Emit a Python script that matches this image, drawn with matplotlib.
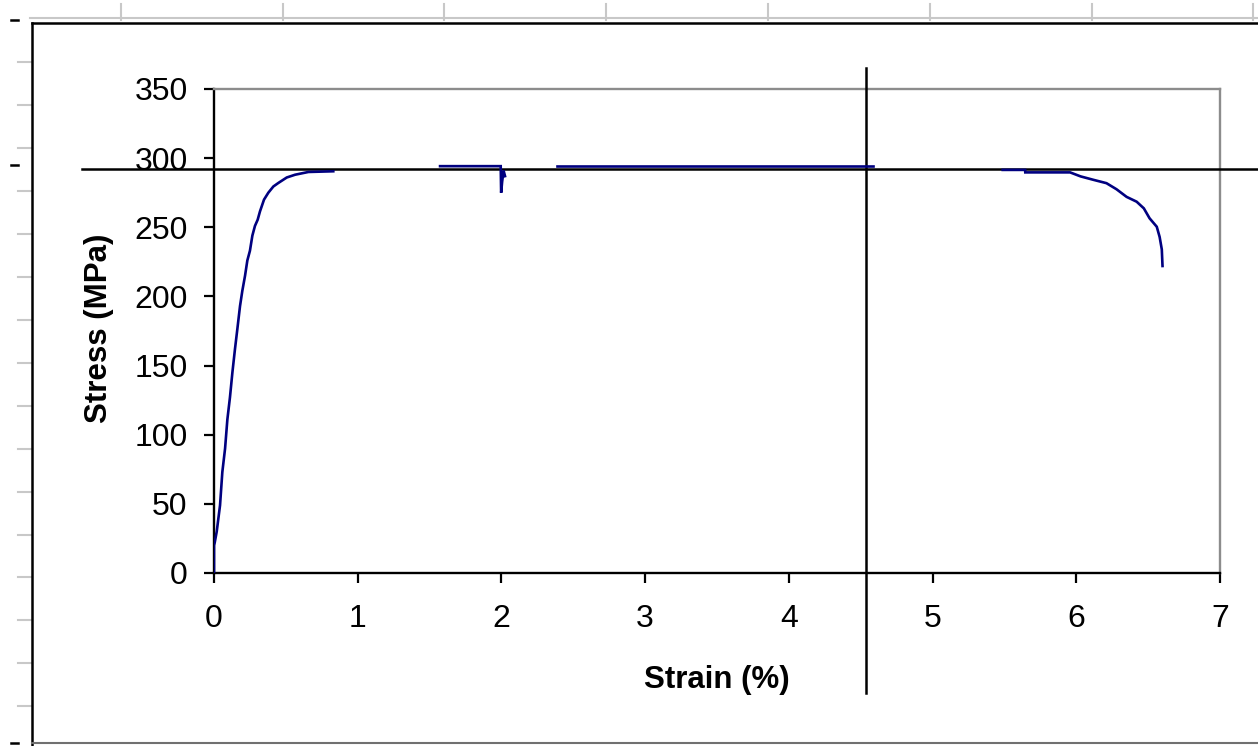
import matplotlib
matplotlib.use("Agg")
import matplotlib.pyplot as plt
import numpy as np

plt.rcParams['font.family'] = ['Liberation Sans', 'DejaVu Sans']

# ---- data ----
strain_elastic = [0.0, 0.0, 0.005, 0.019, 0.042, 0.058, 0.077, 0.093, 0.111, 0.128, 0.146,
                  0.162, 0.181, 0.197, 0.216, 0.232, 0.25, 0.267, 0.285, 0.304, 0.32,
                  0.348, 0.378, 0.413, 0.447, 0.506, 0.564, 0.657, 0.83]
stress_elastic = [0, 20, 22, 30, 49, 73, 90, 111, 127, 145, 162,
                  176, 193, 204, 215, 226, 233, 244, 251, 255.5, 261.5,
                  270, 275, 279.5, 282, 286, 288, 290, 290.5]

strain_mid1 = [1.573, 1.995, 1.998, 2.005, 2.015, 2.025]
stress_mid1 = [294.2, 294.2, 275, 283, 291, 287]

strain_mid2 = [2.385, 3.0, 4.0, 4.585]
stress_mid2 = [294.2, 294.2, 294.2, 294.2]

strain_end = [5.488, 5.644, 5.645, 5.957, 6.03, 6.12, 6.21, 6.28, 6.35, 6.42,
              6.47, 6.51, 6.56, 6.58, 6.595, 6.60]
stress_end = [291.5, 291.5, 289.7, 289.7, 286.8, 284.3, 281.9, 277.5, 272, 268.5,
              263.7, 256.5, 250.4, 243, 234, 222]

x_ticks = [0, 1, 2, 3, 4, 5, 6, 7]
y_ticks = [0, 50, 100, 150, 200, 250, 300, 350]

ref_stress = 292.5   # horizontal reference line
ref_strain = 4.54    # vertical reference line

W, H = 1258, 746
fig = plt.figure(figsize=(W / 100, H / 100), dpi=100)
fig.patch.set_facecolor('white')

# ---- spreadsheet background decorations (pixel coords) ----
bg = fig.add_axes([0, 0, 1, 1], zorder=0)
bg.set_xlim(0, W)
bg.set_ylim(H, 0)
bg.axis('off')
grid_col = '#c8c8c8'
bg.plot([30, W], [18, 18], color=grid_col, lw=1.5)
for gx in [121, 283, 444, 606, 768, 930, 1092, 1253]:
    bg.plot([gx, gx], [4, 20], color=grid_col, lw=1.5)
for gy in [62, 105, 148, 191, 234, 277, 320, 363, 406, 449, 492, 535, 577, 620, 663, 706]:
    bg.plot([18, 32], [gy, gy], color=grid_col, lw=1.5)
for gy in [20, 165, 743]:
    bg.plot([11, 18], [gy, gy], color='black', lw=1.8)
# chart area border
bg.plot([32, 32], [23, H], color='black', lw=1.8)
bg.plot([32, W], [23, 23], color='black', lw=1.8)
bg.plot([32, W], [743, 743], color='#707070', lw=1.5)

# ---- main plot ----
ax = fig.add_axes([214 / W, 1 - 573 / H, 1006 / W, 484 / H], zorder=2)
ax.set_facecolor('white')
line_col = '#000080'
for xs, ys in [(strain_elastic, stress_elastic), (strain_mid1, stress_mid1),
               (strain_mid2, stress_mid2), (strain_end, stress_end)]:
    ax.plot(xs, ys, color=line_col, lw=1.9, zorder=4, solid_joinstyle='miter')

ax.set_xlim(0, 7)
ax.set_ylim(0, 350)
ax.set_xticks(x_ticks)
ax.set_yticks(y_ticks)
ax.set_xticklabels([str(v) for v in x_ticks])
ax.set_yticklabels([str(v) for v in y_ticks])

for side in ['left', 'bottom']:
    ax.spines[side].set_color('black')
    ax.spines[side].set_linewidth(1.7)
for side in ['top', 'right']:
    ax.spines[side].set_color('#8c8c8c')
    ax.spines[side].set_linewidth(1.7)

ax.tick_params(axis='both', direction='out', length=7, width=1.6, colors='black',
               labelsize=23)
ax.tick_params(axis='x', pad=15)
ax.tick_params(axis='y', pad=12)

ax.set_xlabel('Strain (%)', fontsize=22.5, fontweight='bold')
ax.set_ylabel('Stress (MPa)', fontsize=22.5, fontweight='bold')
ax.xaxis.label.set_va('center')
ax.yaxis.label.set_va('center')
ax.xaxis.set_label_coords(0.5, -(680 - 573) / 484)
ax.yaxis.set_label_coords(-(214 - 99) / 1006, (573 - 328) / 484)

# reference cross lines (extend beyond plot area)
x_left = (82 - 214) / 1006 * 7
x_right = (W - 214) / 1006 * 7
ax.plot([x_left, x_right], [ref_stress, ref_stress], color='black', lw=1.8,
        clip_on=False, zorder=3)
y_top = (573 - 68) / 484 * 350
y_bot = (573 - 693) / 484 * 350
ax.plot([ref_strain, ref_strain], [y_bot, y_top], color='black', lw=1.8,
        clip_on=False, zorder=3)

fig.savefig('out.png', dpi=100, facecolor='white')
